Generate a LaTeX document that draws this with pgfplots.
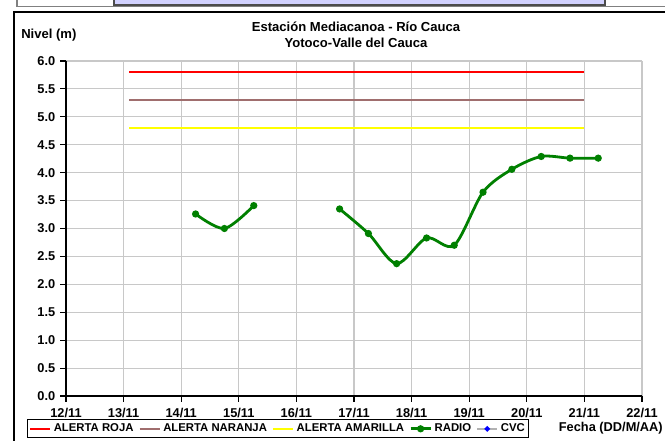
\documentclass[border=0pt]{standalone}
\usepackage{pgfplots}
\pgfplotsset{compat=1.18}
\usepackage{fontspec}
\setmainfont{Liberation Sans}
\definecolor{rojo}{RGB}{255,0,0}
\definecolor{naranja}{RGB}{160,110,110}
\definecolor{amarillo}{RGB}{255,255,0}
\definecolor{verde}{RGB}{0,128,0}
\definecolor{gridg}{RGB}{200,200,200}
\definecolor{lav}{RGB}{210,210,255}
\begin{document}
\begin{tikzpicture}[x=0.75pt,y=0.75pt]
\useasboundingbox (0,0) rectangle (665,441);
\fill[white] (0,0) rectangle (665,441);
% remnants of frame above
\draw[gray, line width=1.2pt] (17,445) -- (17,434.5) -- (670,434.5);
\filldraw[fill=lav, draw=black!70, line width=0.8pt] (114,436) rectangle (605,446);
\draw[black, line width=1.6pt] (14,-5) -- (14,429) -- (670,429);
% titles
\node[font=\bfseries\fontsize{9.8}{11.7}\selectfont, align=center] at (356,406.5) {Estación Mediacanoa - Río Cauca\\Yotoco-Valle del Cauca};
\node[font=\bfseries\fontsize{9.8}{10}\selectfont, anchor=west, inner sep=0pt] at (21,406) {Nivel (m)};
\node[font=\bfseries\fontsize{9.6}{10}\selectfont, anchor=east, inner sep=0pt] at (663,13) {Fecha (DD/M/AA)};
\begin{axis}[
  at={(49.5pt,33.75pt)}, anchor=south west, scale only axis,
  width=432pt, height=251.25pt,
  xmin=12, xmax=22, ymin=0, ymax=6,
  xtick={12,...,22},
  xticklabels={12/11,13/11,14/11,15/11,16/11,17/11,18/11,19/11,20/11,21/11,22/11},
  ytick={0,0.5,1,1.5,2,2.5,3,3.5,4,4.5,5,5.5,6},
  yticklabels={0.0,0.5,1.0,1.5,2.0,2.5,3.0,3.5,4.0,4.5,5.0,5.5,6.0},
  ticklabel style={font=\bfseries\fontsize{9.6}{10}\selectfont},
  xticklabel style={yshift=-1pt},
  axis x line*=bottom, axis y line*=left,
  axis line style={black, line width=0.9pt},
  tick align=outside, major tick length=4.5pt,
  tick style={black, line width=0.8pt},
  grid=major, major grid style={gridg, line width=0.8pt},
  clip=false,
  legend columns=5,
  legend cell align=left,
  legend style={at={(axis description cs:-0.067,-0.098)}, anchor=west,
    draw=black, line width=0.6pt, inner sep=1pt,
    font=\bfseries\fontsize{8.5}{10}\selectfont,
    /tikz/every even column/.append style={column sep=1.8pt}},
  legend image code/.code={\draw[mark repeat=2,mark phase=2,#1] plot coordinates {(0pt,0pt) (7.5pt,0pt) (15pt,0pt)};},
]
\addplot[rojo, line width=1.5pt] coordinates {(13.1,5.8) (21.0,5.8)};
\addlegendentry{ALERTA ROJA}
\addplot[naranja, line width=1.5pt] coordinates {(13.1,5.3) (21.0,5.3)};
\addlegendentry{ALERTA NARANJA}
\addplot[amarillo, line width=1.5pt] coordinates {(13.1,4.8) (21.0,4.8)};
\addlegendentry{ALERTA AMARILLA}
\addplot[verde, line width=2.1pt, smooth, mark=*, mark size=1.6pt] coordinates {
  (14.25,3.26) (14.75,3.00) (15.26,3.41)};
\addlegendentry{RADIO}
\addplot[verde, line width=2.1pt, smooth, mark=*, mark size=1.6pt, forget plot] coordinates {
  (16.75,3.35) (17.25,2.91) (17.74,2.37) (18.26,2.83) (18.74,2.70)
  (19.24,3.65) (19.74,4.06) (20.25,4.29) (20.75,4.26) (21.24,4.26)};
\addlegendimage{gray!60, line width=1.5pt, mark=*, mark size=1.2pt, mark options={blue, draw=blue}}
\addlegendentry{CVC}
\end{axis}
\end{tikzpicture}
\end{document}
